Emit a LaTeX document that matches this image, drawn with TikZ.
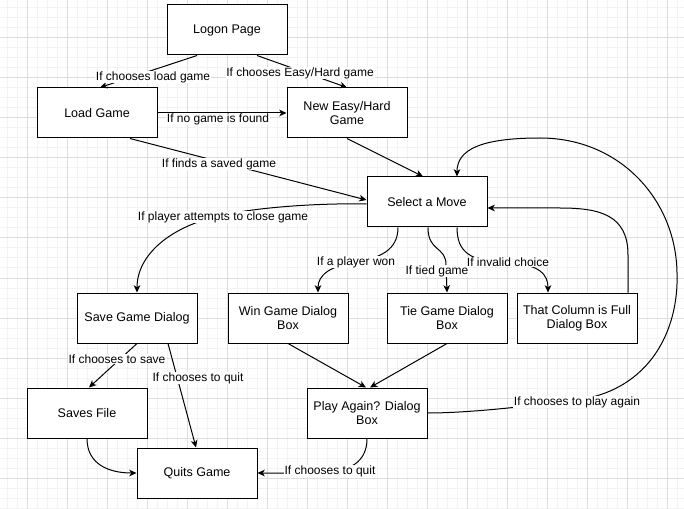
\documentclass[tikz,border=0pt]{standalone}
\usepackage{fontspec}
\setmainfont{Liberation Sans}
\usetikzlibrary{arrows.meta,calc}
\definecolor{gridminor}{HTML}{F3F3F3}
\definecolor{gridmajor}{HTML}{DEDEDE}
\tikzset{
  box/.style={draw=black, line width=0.75pt, fill=white, minimum width=90pt, minimum height=37.5pt,
              inner sep=0pt, align=center, font=\fontsize{9.4}{10.5}\selectfont},
  lab/.style={fill=white, inner sep=0.6pt, font=\fontsize{9}{10}\selectfont},
  conn/.style={draw=black, line width=0.75pt},
  arr/.style={conn, -{Stealth[length=5.5pt,width=5pt,inset=1.6pt]}}
}
\begin{document}
\begin{tikzpicture}[x=0.75pt,y=-0.75pt]
\useasboundingbox (0,0) rectangle (684,509);
\fill[white] (0,0) rectangle (684,509);
% grid
\foreach \gx in {7,17,...,677} {\draw[gridminor, line width=0.75pt] (\gx,0) -- (\gx,509);}
\foreach \gy in {8,18,...,508} {\draw[gridminor, line width=0.75pt] (0,\gy) -- (684,\gy);}
\foreach \gx in {27,67,...,667} {\draw[gridmajor, line width=0.75pt] (\gx,0) -- (\gx,509);}
\foreach \gy in {38,78,...,478} {\draw[gridmajor, line width=0.75pt] (0,\gy) -- (684,\gy);}

% nodes
\node[box] (logon) at (227,30) {Logon Page};
\node[box] (load) at (97,113) {Load Game};
\node[box] (new) at (347,113) {New Easy/Hard\\Game};
\node[box] (sel) at (427,202) {Select a Move};
\node[box] (save) at (137,318) {Save Game Dialog};
\node[box] (win) at (288,318) {Win Game Dialog\\Box};
\node[box] (tie) at (447,318) {Tie Game Dialog\\Box};
\node[box] (col) at (577,318) {That Column is Full\\Dialog Box};
\node[box] (saves) at (87,413) {Saves File};
\node[box] (quits) at (197,473) {Quits Game};
\node[box] (pa) at (367,413) {Play Again? Dialog\\Box};

% connectors
\draw[arr] ($(logon.south)+(-30,0)$) -- ($(load.north)+(3,0)$);
\draw[arr] ($(logon.south)+(30,0)$) -- (new.north);
\draw[arr] (load.east) -- (new.west);
\draw[arr] ($(load.south)+(33,0)$) -- ($(sel.west)+(0,-2)$);
\draw[arr] (new.south) -- ($(sel.north)+(-4,0)$);
\draw[arr] ($(sel.west)+(0,2)$) .. controls (320,203) and (260,207) .. (223,215)
           .. controls (170,226) and (137,255) .. (save.north);
\draw[arr] ($(sel.south)+(-29,0)$) .. controls (398,250) and (380,258) .. (356,262)
           .. controls (330,266) and (318,275) .. ($(win.north)+(30,0)$);
\draw[arr] ($(sel.south)+(1,0)$) .. controls (428,252) and (446,246) .. (446,265) -- (tie.north);
\draw[arr] ($(sel.south)+(30,0)$) .. controls (457,252) and (470,262) .. (508,263)
           .. controls (540,264) and (548,275) .. ($(col.north)+(-29,0)$);
\draw[arr] ($(col.north)+(51,0)$) -- (628,255) .. controls (628,215) and (600,208) .. (560,208)
           -- ($(sel.east)+(0,6)$);
\draw[arr] (pa.east) .. controls (470,413) and (530,406) .. (577,400)
           .. controls (650,390) and (679,330) .. (677,273)
           .. controls (676,200) and (620,138) .. (540,138)
           .. controls (480,138) and (457,150) .. ($(sel.north)+(30,0)$);
\draw[arr] (win.south) -- ($(pa.north)+(-1,0)$);
\draw[arr] (tie.south) -- ($(pa.north)+(3,0)$);
\draw[arr] (save.south) -- ($(saves.north)+(2,0)$);
\draw[arr] ($(save.south)+(31,0)$) -- ($(quits.north)+(-1,0)$);
\draw[arr] (saves.south) .. controls (87,465) and (110,473) .. (quits.west);
\draw[arr] (pa.south) .. controls (367,462) and (350,472) .. (320,473) -- (quits.east);

% labels
\node[lab] (l1) at (153,77) {If chooses load game};
\node[lab] (l2) at (300,73) {If chooses Easy/Hard game};
\node[lab] (l3) at (218,119) {If no game is found};
\node[lab] (l4) at (219,164) {If finds a saved game};
\node[lab] (l5) at (223,217) {If player attempts to close game};
\node[lab] (l6) at (356,262) {If a player won};
\node[lab] (l7) at (437,271) {If tied game};
\node[lab] (l8) at (508,262) {If invalid choice};
\node[lab] (l9) at (577,402) {If chooses to play again};
\node[lab] (l10) at (117,359) {If chooses to save};
\node[lab] (l11) at (198,378) {If chooses to quit};
\node[lab] (l12) at (330,471) {If chooses to quit};
\end{tikzpicture}
\end{document}
